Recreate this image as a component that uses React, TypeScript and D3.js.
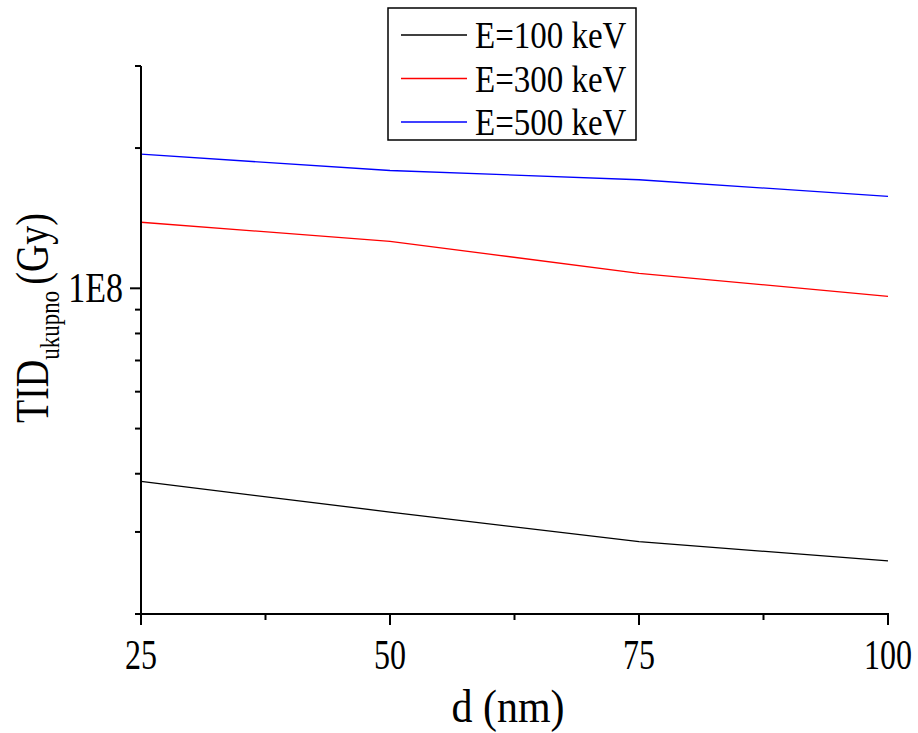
import React from "react";
import * as d3 from "d3";

const thickness = [25, 50, 75, 100];
const e100 = [3.85e7, 3.31e7, 2.86e7, 2.6e7];
const e300 = [1.386e8, 1.261e8, 1.077e8, 0.961e8];
const e500 = [1.94e8, 1.79e8, 1.71e8, 1.575e8];
const seriesNames = ["E=100 keV", "E=300 keV", "E=500 keV"];
const seriesColors = ["#000000", "#ff0000", "#0000ff"];
const xMajorTicks = [25, 50, 75, 100];
const xMinorTicks = [37.5, 62.5, 87.5];
const yMajorTicks = [1e8];
const yMinorTicks = [2e7, 3e7, 4e7, 5e7, 6e7, 7e7, 8e7, 9e7, 2e8, 3e8];

const W = 918;
const H = 733;
const FONT = "'Liberation Serif', 'DejaVu Serif', serif";

function T(props: { x: number; y: number; size: number; sy: number; anchor?: string; children: React.ReactNode }) {
  return (
    <text
      transform={`translate(${props.x},${props.y}) scale(1,${props.sy})`}
      textAnchor={props.anchor || "start"}
      fontFamily={FONT}
      fontSize={props.size}
      fill="#000"
    >
      {props.children}
    </text>
  );
}

export default function App() {
  const x = d3.scaleLinear().domain([25, 100]).range([141, 888]);
  const y = d3.scaleLog().domain([2e7, 3e8]).range([614, 66]);
  const series = [e100, e300, e500];
  const line = d3
    .line<number>()
    .x((_, i) => x(thickness[i]))
    .y((d) => y(d));

  return (
    <svg width={W} height={H} style={{ position: "absolute", left: 0, top: 0, background: "#fff" }}>
      <rect x={0} y={0} width={W} height={H} fill="#fff" />
      {series.map((s, i) => (
        <path key={i} d={line(s) || ""} fill="none" stroke={seriesColors[i]} strokeWidth={1.3} />
      ))}
      {/* axes */}
      <line x1={141} x2={141} y1={y(3e8)} y2={y(2e7) + 1} stroke="#000" strokeWidth={2} />
      <line x1={x(25) - 6} x2={x(100) + 1} y1={614} y2={614} stroke="#000" strokeWidth={2} />
      {xMajorTicks.map((t) => (
        <g key={"xm" + t}>
          <line x1={x(t)} x2={x(t)} y1={614} y2={625} stroke="#000" strokeWidth={2} />
          <T x={x(t)} y={669} size={32} sy={1.3} anchor="middle">
            {t}
          </T>
        </g>
      ))}
      {xMinorTicks.map((t) => (
        <line key={"xn" + t} x1={x(t)} x2={x(t)} y1={614} y2={620} stroke="#000" strokeWidth={2} />
      ))}
      {yMajorTicks.map((t) => (
        <g key={"ym" + t}>
          <line x1={130} x2={141} y1={y(t)} y2={y(t)} stroke="#000" strokeWidth={2} />
          <T x={123} y={y(t) + 14} size={34} sy={1.25} anchor="end">
            1E8
          </T>
        </g>
      ))}
      {yMinorTicks.map((t) => (
        <line key={"yn" + t} x1={135} x2={141} y1={y(t)} y2={y(t)} stroke="#000" strokeWidth={2} />
      ))}
      {/* axis titles */}
      <T x={508} y={722} size={42} sy={1.1} anchor="middle">
        d (nm)
      </T>
      <g transform="translate(48,318) rotate(-90)">
        <text transform="scale(1,1.2)" x={0} y={0} textAnchor="middle" fontFamily={FONT} fontSize={38} fill="#000">
          TID
          <tspan fontSize={23} dy={9}>ukupno</tspan>
          <tspan dy={-9} dx={6}>(Gy)</tspan>
        </text>
      </g>
      {/* legend */}
      <rect x={388} y={8} width={248} height={132} fill="#fff" stroke="#000" strokeWidth={1.5} />
      {seriesNames.map((n, i) => (
        <g key={n}>
          <line x1={401} x2={467} y1={35 + i * 43.5} y2={35 + i * 43.5} stroke={seriesColors[i]} strokeWidth={1.3} />
          <T x={475} y={35 + i * 43.5 + 13} size={33} sy={1.15}>
            {n}
          </T>
        </g>
      ))}
    </svg>
  );
}
